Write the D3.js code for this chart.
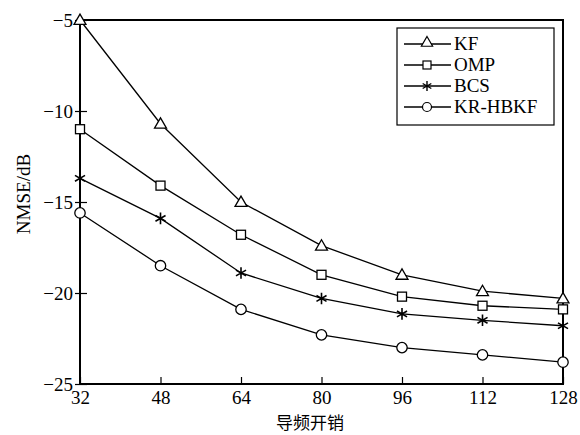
<!DOCTYPE html>
<html>
<head>
<meta charset="utf-8">
<script src="https://cdn.jsdelivr.net/npm/d3@7"></script>
<style>
  body { margin: 0; background: #fff; }
  svg { display: block; }
  text { font-family: "Liberation Serif", "DejaVu Serif", serif; fill: #000; }
</style>
</head>
<body>
<script>
// chart data
const pilots = [32, 48, 64, 80, 96, 112, 128];
const kf     = [-5.0, -10.7, -15.0, -17.4, -19.0, -19.9, -20.3];
const omp    = [-11.0, -14.1, -16.8, -19.0, -20.2, -20.7, -20.9];
const bcs    = [-13.7, -15.9, -18.9, -20.3, -21.15, -21.5, -21.8];
const krhbkf = [-15.6, -18.5, -20.9, -22.3, -23.0, -23.4, -23.8];
const seriesNames = ['KF', 'OMP', 'BCS', 'KR-HBKF'];
const markerTypes = ['triangle', 'square', 'star', 'circle'];
const yTicks = [-5, -10, -15, -20, -25];

const serif = '"Liberation Serif", "DejaVu Serif", serif';
const width = 580, height = 435;
const margin = { top: 20, right: 17, bottom: 51, left: 80 };

const svg = d3.select('body').append('svg')
    .attr('width', width)
    .attr('height', height);

const x = d3.scaleLinear()
    .domain([32, 128])
    .range([margin.left, width - margin.right]);

const y = d3.scaleLinear()
    .domain([-25, -5])
    .range([height - margin.bottom, margin.top]);

// axes
const xAxis = svg.append('g')
    .attr('transform', 'translate(0,' + (height - margin.bottom) + ')')
    .call(d3.axisBottom(x).tickValues(pilots).tickSize(-7).tickPadding(7).tickSizeOuter(0));
xAxis.select('.domain').remove();
xAxis.selectAll('line').attr('stroke', '#000').attr('stroke-width', 1.2);
xAxis.selectAll('text')
    .style('font-family', serif)
    .style('font-size', '19px')
    .attr('fill', '#000');

const yAxis = svg.append('g')
    .attr('transform', 'translate(' + margin.left + ',0)')
    .call(d3.axisLeft(y).tickValues(yTicks).tickSize(4).tickPadding(3)
        .tickFormat(d => String(d).replace('-', '\u2212')));
yAxis.select('.domain').remove();
yAxis.selectAll('line').attr('x2', 7).attr('x1', -5).attr('stroke', '#000').attr('stroke-width', 1.2);
yAxis.selectAll('text')
    .style('font-family', serif)
    .style('font-size', '19px')
    .attr('fill', '#000');

// frame
svg.append('rect')
    .attr('x', x(32))
    .attr('y', y(-5))
    .attr('width', x(128) - x(32))
    .attr('height', y(-25) - y(-5))
    .attr('fill', 'none')
    .attr('stroke', '#000')
    .attr('stroke-width', 2);

// axis titles
svg.append('text')
    .attr('x', 310)
    .attr('y', 429)
    .attr('text-anchor', 'middle')
    .style('font-family', '"Noto Sans CJK SC", sans-serif')
    .style('font-size', '17px')
    .text('导频开销');

svg.append('text')
    .attr('transform', 'translate(30,' + 194 + ') rotate(-90)')
    .attr('text-anchor', 'middle')
    .style('font-family', serif)
    .style('font-size', '19px')
    .text('NMSE/dB');

// markers
function drawMarker(g, type, cx, cy) {
    if (type === 'triangle') {
        g.append('path')
            .attr('d', d3.symbol(d3.symbolTriangle, 62)())
            .attr('transform', 'translate(' + cx + ',' + (cy + 1) + ')')
            .attr('fill', '#fff').attr('stroke', '#000').attr('stroke-width', 1.3);
    } else if (type === 'square') {
        g.append('rect')
            .attr('x', cx - 4.5).attr('y', cy - 4.5)
            .attr('width', 9).attr('height', 9)
            .attr('fill', '#fff').attr('stroke', '#000').attr('stroke-width', 1.3);
    } else if (type === 'circle') {
        g.append('circle')
            .attr('cx', cx).attr('cy', cy).attr('r', 5.2)
            .attr('fill', '#fff').attr('stroke', '#000').attr('stroke-width', 1.3);
    } else {
        g.append('path')
            .attr('d', d3.symbol(d3.symbolAsterisk, 95)())
            .attr('transform', 'translate(' + cx + ',' + cy + ')')
            .attr('fill', 'none').attr('stroke', '#000').attr('stroke-width', 1.6);
    }
}

const allSeries = [kf, omp, bcs, krhbkf];
const line = d3.line()
    .x((d, i) => x(pilots[i]))
    .y(d => y(d));

allSeries.forEach((vals, k) => {
    svg.append('path')
        .datum(vals)
        .attr('fill', 'none')
        .attr('stroke', '#000')
        .attr('stroke-width', 1.3)
        .attr('d', line);
    const g = svg.append('g');
    vals.forEach((v, i) => drawMarker(g, markerTypes[k], x(pilots[i]), y(v)));
});

// legend
const legend = svg.append('g').attr('transform', 'translate(397,28)');
legend.append('rect')
    .attr('width', 157).attr('height', 97)
    .attr('fill', '#fff').attr('stroke', '#000').attr('stroke-width', 1.2);

seriesNames.forEach((name, k) => {
    const ly = 16 + k * 21;
    legend.append('line')
        .attr('x1', 7).attr('x2', 54)
        .attr('y1', ly).attr('y2', ly)
        .attr('stroke', '#000').attr('stroke-width', 1.3);
    const g = legend.append('g');
    if (markerTypes[k] === 'triangle') {
        g.append('path')
            .attr('d', d3.symbol(d3.symbolTriangle, 55)())
            .attr('transform', 'translate(30,' + (ly - 1) + ')')
            .attr('fill', '#fff').attr('stroke', '#000').attr('stroke-width', 1.2);
    } else if (markerTypes[k] === 'square') {
        g.append('rect').attr('x', 26).attr('y', ly - 4).attr('width', 8).attr('height', 8)
            .attr('fill', '#fff').attr('stroke', '#000').attr('stroke-width', 1.2);
    } else if (markerTypes[k] === 'circle') {
        g.append('circle').attr('cx', 30).attr('cy', ly).attr('r', 4.5)
            .attr('fill', '#fff').attr('stroke', '#000').attr('stroke-width', 1.2);
    } else {
        g.append('path')
            .attr('d', d3.symbol(d3.symbolAsterisk, 70)())
            .attr('transform', 'translate(30,' + ly + ')')
            .attr('fill', 'none').attr('stroke', '#000').attr('stroke-width', 1.4);
    }
    legend.append('text')
        .attr('x', 57).attr('y', ly + 6)
        .style('font-family', serif)
        .style('font-size', '19px')
        .text(name);
});
</script>
</body>
</html>
